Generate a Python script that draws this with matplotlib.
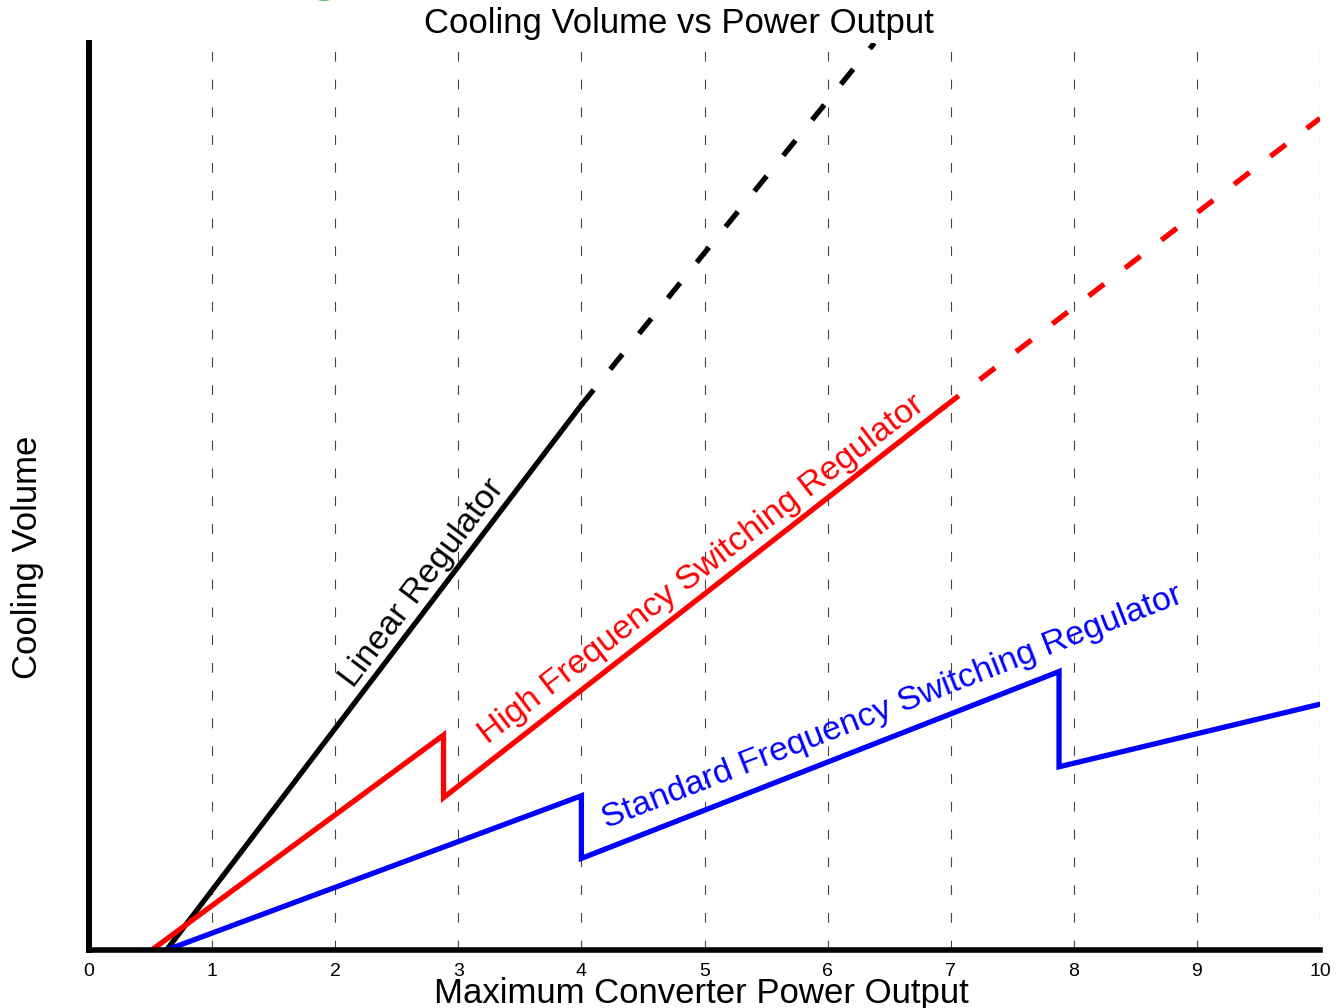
import matplotlib
matplotlib.use("Agg")
import matplotlib.pyplot as plt
from matplotlib.patches import Circle
from matplotlib.transforms import IdentityTransform

plt.rcParams['font.family'] = ['Liberation Sans', 'DejaVu Sans']
plt.rcParams['lines.scale_dashes'] = False

# Data (x: power output, y: cooling volume on 0-100 scale)
x_ticks = list(range(0, 11))

linear_x = [0.63, 4.0]
linear_y = [0.0, 60.1]
linear_ext_x = [4.0, 6.38]
linear_ext_y = [60.1, 100.0]

hf_x = [0.51, 2.88, 2.88, 6.94]
hf_y = [0.0, 23.7, 16.8, 59.8]
hf_ext_x = [6.94, 10.0]
hf_ext_y = [59.8, 91.7]

sf_x = [0.63, 4.0, 4.0, 7.88, 7.88, 10.0]
sf_y = [0.0, 17.0, 10.1, 30.7, 20.2, 27.1]

labels = ["Linear Regulator", "High Frequency Switching Regulator",
          "Standard Frequency Switching Regulator"]

W, H = 1338, 1008
fig = plt.figure(figsize=(W/100, H/100), dpi=100)
ax = fig.add_axes([89/W, 1-950/H, (1320-89)/W, (950-43)/H])
ax.set_xlim(0, 10)
ax.set_ylim(0, 100)

for xv in x_ticks[1:]:
    ax.axvline(xv, color='#444444', lw=0.8, dashes=(7, 13), zorder=1)

dash = (14, 19)
lw = 3.8
ax.plot(linear_x, linear_y, color='black', lw=lw, zorder=3)
ax.plot(linear_ext_x, linear_ext_y, color='black', lw=lw, dashes=dash, zorder=3)
ax.plot(hf_x, hf_y, color='red', lw=lw, solid_joinstyle='miter', zorder=3)
ax.plot(hf_ext_x, hf_ext_y, color='red', lw=lw, dashes=dash, zorder=3)
ax.plot(sf_x, sf_y, color='blue', lw=lw, solid_joinstyle='miter', zorder=3)

for s in ['top', 'right']:
    ax.spines[s].set_visible(False)
ax.spines['left'].set_linewidth(4.3)
ax.spines['bottom'].set_linewidth(4.0)
ax.spines['left'].set_zorder(4)
ax.spines['bottom'].set_zorder(4)
ax.set_yticks([])
ax.set_xticks(x_ticks)
ax.set_xticklabels([str(v) for v in x_ticks], fontsize=14)
ax.tick_params(axis='x', length=0, pad=9)

fig.text(679/W, 1-24/H, "Cooling Volume vs Power Output", ha='center', va='center', fontsize=25)
fig.text(701/W, 1-1003/H, "Maximum Converter Power Output", ha='center', va='baseline', fontsize=25)
fig.text(28/W, 1-557/H, "Cooling Volume", ha='center', va='center', fontsize=25, rotation=90)

fig.text(422/W, 1-583/H, labels[0], color='black', ha='center', va='center',
         fontsize=24.5, rotation=53, rotation_mode='anchor')
fig.text(702/W, 1-570/H, labels[1], color='red', ha='center', va='center',
         fontsize=24.5, rotation=37.5, rotation_mode='anchor')
fig.text(892/W, 1-707/H, labels[2], color='blue', ha='center', va='center',
         fontsize=24.5, rotation=21.4, rotation_mode='anchor')

# small green decoration peeking in at the top edge
deco = Circle((324, H + 31), 30, fill=False, edgecolor='#2e9e3e', lw=2.5,
              transform=IdentityTransform(), clip_on=False)
fig.add_artist(deco)

fig.savefig("out.png", dpi=100)
